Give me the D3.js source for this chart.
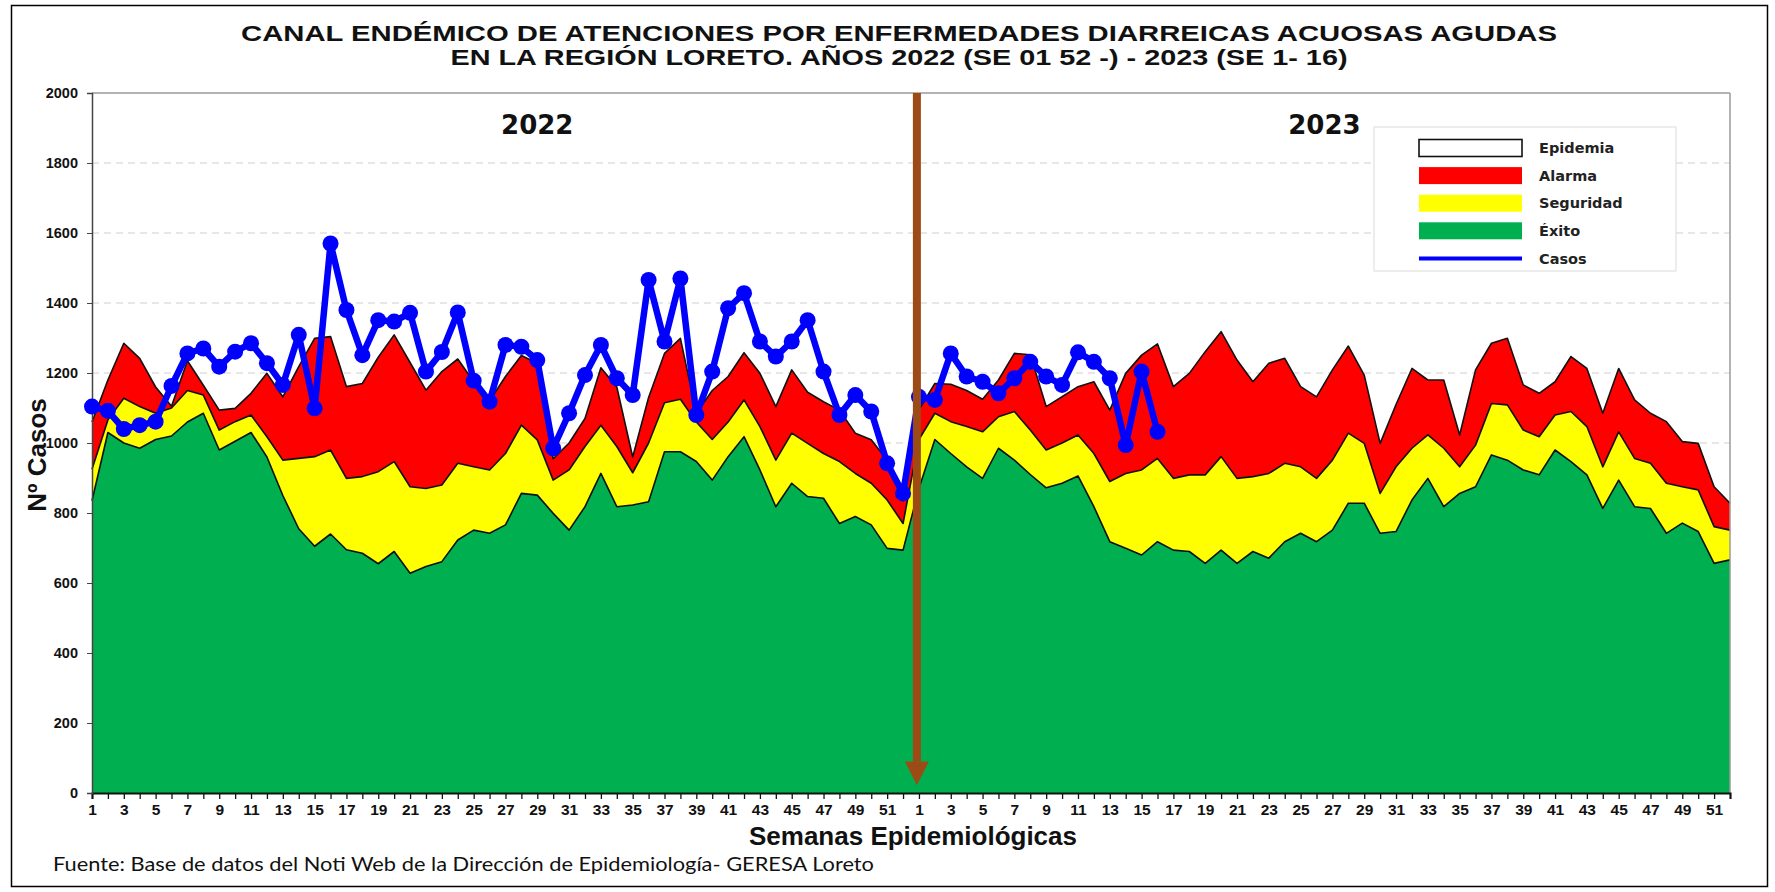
<!DOCTYPE html>
<html>
<head>
<meta charset="utf-8">
<script src="https://cdn.jsdelivr.net/npm/d3@7/dist/d3.min.js"></script>
<style>
  body { margin: 0; background: #fff; }
</style>
</head>
<body>
<div class="chart"></div>
<script>
// ---- DATA ----------------------------------------------------------
var anios = ["2022", "2023"];
var semanas = d3.range(1, 53);   // SE 1..52 for each year

var exito2022 = [835,1030,1000,985,1010,1020,1060,1085,980,1005,1030,960,850,755,705,740,695,685,655,690,628,647,661,723,751,742,766,856,851,799,751,818,913,818,823,832,975,975,947,894,961,1018,923,818,885,847,842,770,790,766,699,694];
var seguridad2022 = [925,1066,1128,1104,1085,1100,1150,1137,1037,1061,1080,1018,951,956,961,980,899,904,918,947,875,870,880,942,932,923,970,1051,1009,894,923,990,1051,990,915,1000,1115,1125,1060,1010,1060,1123,1047,951,1028,999,970,947,913,885,837,770];
var alarma2022 = [1060,1180,1285,1242,1160,1105,1235,1165,1094,1099,1142,1199,1132,1218,1299,1304,1161,1170,1245,1309,1230,1151,1204,1240,1175,1120,1190,1250,1228,955,1000,1070,1215,1160,960,1130,1256,1299,1085,1150,1190,1258,1199,1104,1209,1145,1118,1094,1028,1009,951,835];

var exito2023 = [870,1010,970,932,899,985,951,910,872,885,906,818,718,699,680,718,694,690,656,694,656,690,671,718,742,718,751,828,828,742,747,837,899,818,856,875,966,951,923,909,980,947,909,813,894,818,813,742,771,747,656,666];
var seguridad2023 = [1010,1085,1061,1047,1032,1075,1090,1037,980,1000,1023,970,890,913,923,956,899,909,909,961,899,904,913,942,932,899,951,1028,999,856,932,985,1023,985,932,994,1113,1109,1037,1018,1080,1090,1047,932,1032,956,942,885,875,866,761,751];
var alarma2023 = [1095,1170,1168,1150,1125,1180,1256,1252,1104,1132,1161,1175,1094,1199,1251,1283,1161,1199,1261,1318,1237,1175,1228,1242,1161,1132,1209,1277,1194,999,1110,1213,1180,1180,1023,1209,1285,1299,1166,1142,1175,1247,1213,1085,1213,1123,1085,1061,1004,999,875,828];

var casos2022 = [1104,1092,1040,1051,1061,1163,1256,1270,1218,1261,1285,1228,1166,1309,1099,1570,1380,1251,1351,1347,1372,1204,1260,1373,1178,1118,1280,1275,1237,985,1085,1194,1280,1185,1137,1466,1290,1470,1080,1204,1385,1428,1290,1247,1290,1351,1204,1080,1137,1090,942,856];
var casos2023 = [1132,1123,1256,1190,1175,1142,1185,1232,1190,1166,1259,1232,1185,994,1204,1032];

var yTicks = [0,200,400,600,800,1000,1200,1400,1600,1800,2000];

var legendItems = ["Epidemia", "Alarma", "Seguridad", "Éxito", "Casos"];
var legendColors = ["#ffffff", "#ff0000", "#ffff00", "#00b050", "#0000ff"];

// ---- SET UP ---------------------------------------------------------
var svgWidth = 1775;
var svgHeight = 892;

// one long axis: 52 weeks of 2022 then 52 weeks of 2023
var weekLabels = semanas.concat(semanas);
var exito = exito2022.concat(exito2023);
var seguridad = seguridad2022.concat(seguridad2023);
var alarma = alarma2022.concat(alarma2023);
var casos = casos2022.concat(casos2023);

var svg = d3.select(".chart")
  .append("svg")
  .attr("width", svgWidth)
  .attr("height", svgHeight)
  .style("display", "block");

var xScale = d3.scaleLinear()
  .domain([0, weekLabels.length - 1])
  .range([92, 1730]);

var yScale = d3.scaleLinear()
  .domain([0, 2000])
  .range([793, 93]);

// outer frame
svg.append("rect")
  .attr("x", 11.5).attr("y", 5.5)
  .attr("width", 1756).attr("height", 881)
  .attr("fill", "none")
  .attr("stroke", "#000")
  .attr("stroke-width", 1.5);

// dashed grid
svg.append("g")
  .selectAll("line")
  .data(yTicks.filter(d => d > 0 && d < 2000))
  .enter()
  .append("line")
  .attr("x1", xScale(0)).attr("x2", xScale(weekLabels.length - 1))
  .attr("y1", d => yScale(d)).attr("y2", d => yScale(d))
  .attr("stroke", "#cfcfcf")
  .attr("stroke-width", 1.2)
  .attr("stroke-dasharray", "7,5");

// ---- AREAS ----------------------------------------------------------
function drawBand(values, color) {
  var area = d3.area()
    .x((d, i) => xScale(i))
    .y0(yScale(0))
    .y1(d => yScale(d));
  var line = d3.line()
    .x((d, i) => xScale(i))
    .y(d => yScale(d));
  svg.append("path")
    .attr("d", area(values))
    .attr("fill", color);
  svg.append("path")
    .attr("d", line(values))
    .attr("fill", "none")
    .attr("stroke", "#111")
    .attr("stroke-width", 1.6)
    .attr("stroke-linejoin", "round");
}

drawBand(alarma, "#ff0000");
drawBand(seguridad, "#ffff00");
drawBand(exito, "#00b050");

// plot frame top / right
svg.append("line")
  .attr("x1", xScale(0)).attr("x2", xScale(weekLabels.length - 1))
  .attr("y1", yScale(2000)).attr("y2", yScale(2000))
  .attr("stroke", "#9a9a9a").attr("stroke-width", 1.5);
svg.append("line")
  .attr("x1", xScale(weekLabels.length - 1)).attr("x2", xScale(weekLabels.length - 1))
  .attr("y1", yScale(2000)).attr("y2", yScale(0))
  .attr("stroke", "#9a9a9a").attr("stroke-width", 1.5);

// ---- AXES -----------------------------------------------------------
var bottomAxis = d3.axisBottom(xScale)
  .tickValues(d3.range(weekLabels.length))
  .tickSize(6)
  .tickFormat(i => (weekLabels[i] % 2 === 1 ? weekLabels[i] : ""));

var leftAxis = d3.axisLeft(yScale)
  .tickValues(yTicks)
  .tickSize(5)
  .tickPadding(9)
  .tickFormat(d3.format("d"));

var gx = svg.append("g")
  .attr("transform", `translate(0, ${yScale(0)})`)
  .call(bottomAxis);
gx.select(".domain").attr("stroke", "#111").attr("stroke-width", 2);
gx.selectAll(".tick line").attr("stroke", "#111").attr("stroke-width", 1.3);
gx.selectAll("text")
  .attr("font-family", "'Liberation Sans Narrow', 'Arial Narrow', 'Liberation Sans', Arial, sans-serif")
  .attr("font-weight", "bold")
  .attr("font-size", "15.5px")
  .attr("fill", "#111")
  .attr("dy", "0.82em");

var gy = svg.append("g")
  .attr("transform", `translate(${xScale(0)}, 0)`)
  .call(leftAxis);
gy.select(".domain").attr("stroke", "#444").attr("stroke-width", 1.5);
gy.selectAll(".tick line").attr("stroke", "#444");
gy.selectAll("text")
  .attr("font-family", "'Liberation Sans', Arial, sans-serif")
  .attr("font-weight", "bold")
  .attr("font-size", "14.5px")
  .attr("fill", "#111");

// ---- CASOS ----------------------------------------------------------
var casosLine = d3.line()
  .x((d, i) => xScale(i))
  .y(d => yScale(d));

svg.append("path")
  .attr("d", casosLine(casos))
  .attr("fill", "none")
  .attr("stroke", "#0000ff")
  .attr("stroke-width", 6.5)
  .attr("stroke-linejoin", "round");

svg.append("g")
  .selectAll("circle")
  .data(casos)
  .enter()
  .append("circle")
  .attr("cx", (d, i) => xScale(i))
  .attr("cy", d => yScale(d))
  .attr("r", 8)
  .attr("fill", "#0000ff");

// ---- YEAR DIVIDER ARROW ---------------------------------------------
var xDiv = xScale(semanas.length - 0.13);
svg.append("line")
  .attr("x1", xDiv).attr("x2", xDiv)
  .attr("y1", yScale(2000)).attr("y2", yScale(90))
  .attr("stroke", "#9c4a16")
  .attr("stroke-width", 8);
svg.append("path")
  .attr("d", `M${xDiv - 12},${yScale(90)} L${xDiv + 12},${yScale(90)} L${xDiv},${yScale(22)} Z`)
  .attr("fill", "#9c4a16");

// year labels (positions in week units)
var yearPos = [28, semanas.length + 25.5];
svg.append("g")
  .selectAll("text")
  .data(anios)
  .enter()
  .append("text")
  .attr("x", (d, i) => xScale(yearPos[i]))
  .attr("y", 134)
  .attr("text-anchor", "middle")
  .attr("font-family", "'DejaVu Sans', Verdana, sans-serif")
  .attr("font-weight", "bold")
  .attr("font-size", "26px")
  .attr("fill", "#111")
  .text(d => d);

// ---- LEGEND ---------------------------------------------------------
var legend = svg.append("g");
legend.append("rect")
  .attr("x", 1374).attr("y", 127)
  .attr("width", 302).attr("height", 144)
  .attr("fill", "#fff")
  .attr("stroke", "#e2e2e2")
  .attr("stroke-width", 1.2);

var rows = legend.selectAll("g.row")
  .data(legendItems)
  .enter()
  .append("g")
  .attr("class", "row")
  .attr("transform", (d, i) => `translate(1419, ${148 + i * 27.6})`);

rows.each(function(d, i) {
  var g = d3.select(this);
  if (d === "Casos") {
    g.append("line")
      .attr("x1", 0).attr("x2", 103)
      .attr("y1", 0).attr("y2", 0)
      .attr("stroke", legendColors[i])
      .attr("stroke-width", 4);
  } else {
    g.append("rect")
      .attr("x", 0).attr("y", -8.5)
      .attr("width", 103).attr("height", 17)
      .attr("fill", legendColors[i])
      .attr("stroke", d === "Epidemia" ? "#111" : "none")
      .attr("stroke-width", 1.6);
  }
  g.append("text")
    .attr("x", 120)
    .attr("y", 0)
    .attr("dy", "0.36em")
    .attr("font-family", "'DejaVu Sans', Verdana, sans-serif")
    .attr("font-weight", "bold")
    .attr("font-size", "14.5px")
    .attr("fill", "#222")
    .text(d);
});

// ---- TEXTS ----------------------------------------------------------
svg.append("text")
  .attr("x", 899).attr("y", 41)
  .attr("text-anchor", "middle")
  .attr("font-family", "'Liberation Sans', Arial, sans-serif")
  .attr("font-weight", "bold")
  .attr("font-size", "22px")
  .attr("textLength", 1316)
  .attr("lengthAdjust", "spacingAndGlyphs")
  .attr("fill", "#111")
  .text("CANAL ENDÉMICO DE ATENCIONES POR ENFERMEDADES DIARREICAS ACUOSAS AGUDAS");

svg.append("text")
  .attr("x", 899).attr("y", 65)
  .attr("text-anchor", "middle")
  .attr("font-family", "'Liberation Sans', Arial, sans-serif")
  .attr("font-weight", "bold")
  .attr("font-size", "22px")
  .attr("textLength", 897)
  .attr("lengthAdjust", "spacingAndGlyphs")
  .attr("fill", "#111")
  .text("EN LA REGIÓN LORETO.  AÑOS 2022 (SE 01 52 -) - 2023 (SE 1- 16)");

svg.append("text")
  .attr("transform", "translate(46, 455) rotate(-90)")
  .attr("text-anchor", "middle")
  .attr("font-family", "'Liberation Sans', Arial, sans-serif")
  .attr("font-weight", "bold")
  .attr("font-size", "26px")
  .attr("fill", "#111")
  .text("Nº Casos");

svg.append("text")
  .attr("x", 913).attr("y", 845)
  .attr("text-anchor", "middle")
  .attr("font-family", "'Liberation Sans', Arial, sans-serif")
  .attr("font-weight", "bold")
  .attr("font-size", "26px")
  .attr("fill", "#111")
  .text("Semanas Epidemiológicas");

svg.append("text")
  .attr("x", 53).attr("y", 871)
  .attr("font-family", "Lato, 'Open Sans', sans-serif")
  .attr("font-size", "20px")
  .attr("textLength", 821)
  .attr("lengthAdjust", "spacingAndGlyphs")
  .attr("fill", "#111")
  .text("Fuente: Base de datos del Noti Web de la Dirección de Epidemiología- GERESA Loreto");
</script>
</body>
</html>
